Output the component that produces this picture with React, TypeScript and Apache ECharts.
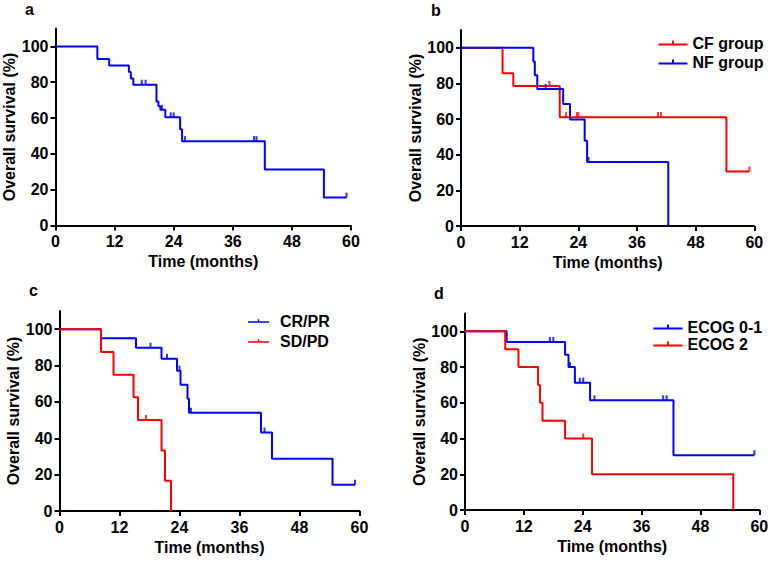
import React, { useEffect, useRef } from "react";
import * as echarts from "echarts";

// ---------- Panel a: all patients ----------
const aTimes = [0, 8.5, 10.9, 14.9, 15.3, 15.8, 20.5, 20.9, 21.3, 22.3, 25.3, 25.7, 42.5, 54.5, 59.1];
const aSurv = [100, 92.9, 89.3, 85.7, 82.1, 78.6, 69.2, 66.6, 64.6, 60.4, 53.8, 47.1, 31.2, 15.6, 15.6];
const aCensT = [17.5, 18.3, 21.6, 23.4, 24.0, 26.3, 40.3, 40.8, 59.1];
const aCensS = [78.6, 78.6, 64.6, 60.4, 60.4, 47.1, 47.1, 47.1, 15.6];

// ---------- Panel b: CF vs NF ----------
const cfTimes = [0, 8.5, 10.7, 20.2, 54.3, 59.0];
const cfSurv = [100, 85.7, 78.6, 61.1, 30.6, 30.6];
const cfCensT = [18.1, 21.5, 23.7, 24.0, 40.3, 40.9, 59.0];
const cfCensS = [78.6, 61.1, 61.1, 61.1, 61.1, 61.1, 30.6];
const nfTimes = [0, 14.8, 15.1, 15.6, 20.9, 22.3, 25.3, 25.8, 42.4];
const nfSurv = [100, 92.3, 84.6, 76.9, 68.4, 59.8, 47.9, 35.9, 0];
const nfCensT = [17.3, 26.1];
const nfCensS = [76.9, 35.9];

// ---------- Panel c: CR/PR vs SD/PD ----------
const crTimes = [0, 8.3, 15.3, 20.4, 23.5, 24.2, 25.6, 25.9, 40.3, 42.5, 54.6, 59.1];
const crSurv = [100, 95.0, 89.8, 83.8, 77.2, 69.4, 61.7, 54.0, 43.2, 28.8, 14.4, 14.4];
const crCensT = [18.2, 21.5, 24.0, 26.3, 41.0, 59.1];
const crCensS = [89.8, 83.8, 77.2, 54.0, 43.2, 14.4];
const sdTimes = [0, 8.3, 10.8, 14.8, 15.7, 20.4, 21.1, 22.3];
const sdSurv = [100, 87.5, 75.0, 62.5, 50.0, 33.3, 16.7, 0];
const sdCensT = [17.3];
const sdCensS = [50.0];

// ---------- Panel d: ECOG ----------
const e01Times = [0, 8.5, 20.4, 21.1, 22.4, 25.5, 42.5, 59.0];
const e01Surv = [100, 94.1, 86.9, 80.0, 71.3, 61.4, 30.7, 30.7];
const e01CensT = [17.3, 18.0, 21.4, 23.4, 24.1, 26.4, 40.4, 41.1, 59.0];
const e01CensS = [94.1, 94.1, 80.0, 71.3, 71.3, 61.4, 61.4, 61.4, 30.7];
const e2Times = [0, 8.2, 10.9, 14.9, 15.3, 15.8, 20.4, 25.9, 54.7];
const e2Surv = [100, 90, 80, 70, 60, 50, 40, 20, 0];
const e2CensT = [24.1];
const e2CensS = [40];

const xTicks = [0, 12, 24, 36, 48, 60];
const yTicks = [0, 20, 40, 60, 80, 100];
const panelLabels = ["a", "b", "c", "d"];
const xName = "Time (months)";
const yName = "Overall survival (%)";

const BLUE = "#0000ff";
const RED = "#ff0000";
const FONT = "'Liberation Sans', Arial, sans-serif";

const grids = [
  { left: 55.5, top: 28.5, width: 295.5, height: 197 },
  { left: 461, top: 30, width: 293.3, height: 196 },
  { left: 59.5, top: 311, width: 300, height: 200 },
  { left: 465, top: 313.5, width: 294.3, height: 196.5 },
];

const zip = (t: number[], s: number[]) => t.map((v, i) => [v, s[i]]);

function lineSeries(name: string, t: number[], s: number[], color: string, idx: number) {
  return {
    type: "line",
    name,
    step: "end",
    data: zip(t, s),
    xAxisIndex: idx,
    yAxisIndex: idx,
    showSymbol: false,
    symbol: "none",
    lineStyle: { color, width: 2 },
    itemStyle: { color },
    z: 3,
  };
}

function censorSeries(name: string, t: number[], s: number[], color: string, idx: number) {
  return {
    type: "scatter",
    name,
    data: zip(t, s),
    xAxisIndex: idx,
    yAxisIndex: idx,
    symbol: "rect",
    symbolSize: [2, 5],
    symbolOffset: [0, -2.5],
    itemStyle: { color },
    z: 4,
  };
}

const axisText = { color: "#000", fontSize: 16, fontWeight: "bold", fontFamily: FONT };
const LEGEND_ICON = "path://M0,3 L30,3 L30,5 L0,5 Z M14,0 L16,0 L16,5 L14,5 Z";

export default function App() {
  const ref = useRef<HTMLDivElement>(null);
  useEffect(() => {
    if (!ref.current) return;
    const chart = echarts.init(ref.current, null, { renderer: "svg" });
    const xAxes = grids.map((_, i) => ({
      type: "value",
      gridIndex: i,
      min: 0,
      max: 60,
      interval: 12,
      name: xName,
      nameLocation: "middle",
      nameGap: 28,
      nameTextStyle: { ...axisText },
      axisLine: { show: true, onZero: false, lineStyle: { color: "#000", width: 2 } },
      axisTick: { show: true, length: 5, lineStyle: { color: "#000", width: 2 }, customValues: xTicks },
      axisLabel: { ...axisText, margin: 8, customValues: xTicks },
      splitLine: { show: false },
    }));
    const yAxes = grids.map((_, i) => ({
      type: "value",
      gridIndex: i,
      min: 0,
      max: 110,
      interval: 20,
      name: yName,
      nameLocation: "middle",
      nameGap: 37,
      nameTextStyle: { ...axisText },
      axisLine: { show: true, onZero: false, lineStyle: { color: "#000", width: 2 } },
      axisTick: { show: true, length: 5, lineStyle: { color: "#000", width: 2 }, customValues: yTicks },
      axisLabel: { ...axisText, margin: 7, customValues: yTicks },
      splitLine: { show: false },
    }));
    const legendBase = {
      orient: "vertical",
      icon: LEGEND_ICON,
      itemHeight: 5,
      padding: 0,
      itemStyle: { borderWidth: 0 },
      textStyle: { ...axisText },
      selectedMode: false,
    };
    const labelPos = [
      [25, 10.5],
      [431, 11],
      [29, 291.5],
      [434, 294],
    ];
    chart.setOption({
      animation: false,
      backgroundColor: "#fff",
      grid: grids.map((g) => ({ ...g, containLabel: false })),
      xAxis: xAxes,
      yAxis: yAxes,
      legend: [
        { ...legendBase, data: ["CF group", "NF group"], left: 658.5, top: 35, itemWidth: 29, itemGap: 3 },
        { ...legendBase, data: ["CR/PR", "SD/PD"], left: 248, top: 313, itemWidth: 21, itemGap: 4, textStyle: { ...axisText, padding: [0, 0, 0, 6] } },
        { ...legendBase, data: ["ECOG 0-1", "ECOG 2"], left: 653.5, top: 319, itemWidth: 29, itemGap: 1 },
      ],
      graphic: panelLabels.map((t, i) => ({
        type: "text",
        left: labelPos[i][0],
        top: labelPos[i][1] - 9,
        style: { text: t, font: `bold 16px ${FONT}`, fill: "#000" },
      })),
      series: [
        lineSeries("All", aTimes, aSurv, BLUE, 0),
        censorSeries("All", aCensT, aCensS, BLUE, 0),
        lineSeries("CF group", cfTimes, cfSurv, RED, 1),
        censorSeries("CF group", cfCensT, cfCensS, RED, 1),
        lineSeries("NF group", nfTimes, nfSurv, BLUE, 1),
        censorSeries("NF group", nfCensT, nfCensS, BLUE, 1),
        lineSeries("CR/PR", crTimes, crSurv, BLUE, 2),
        censorSeries("CR/PR", crCensT, crCensS, BLUE, 2),
        lineSeries("SD/PD", sdTimes, sdSurv, RED, 2),
        censorSeries("SD/PD", sdCensT, sdCensS, RED, 2),
        lineSeries("ECOG 0-1", e01Times, e01Surv, BLUE, 3),
        censorSeries("ECOG 0-1", e01CensT, e01CensS, BLUE, 3),
        lineSeries("ECOG 2", e2Times, e2Surv, RED, 3),
        censorSeries("ECOG 2", e2CensT, e2CensS, RED, 3),
      ],
    });
    return () => chart.dispose();
  }, []);
  return <div ref={ref} style={{ position: "absolute", left: 0, top: 0, width: 772, height: 562 }} />;
}
